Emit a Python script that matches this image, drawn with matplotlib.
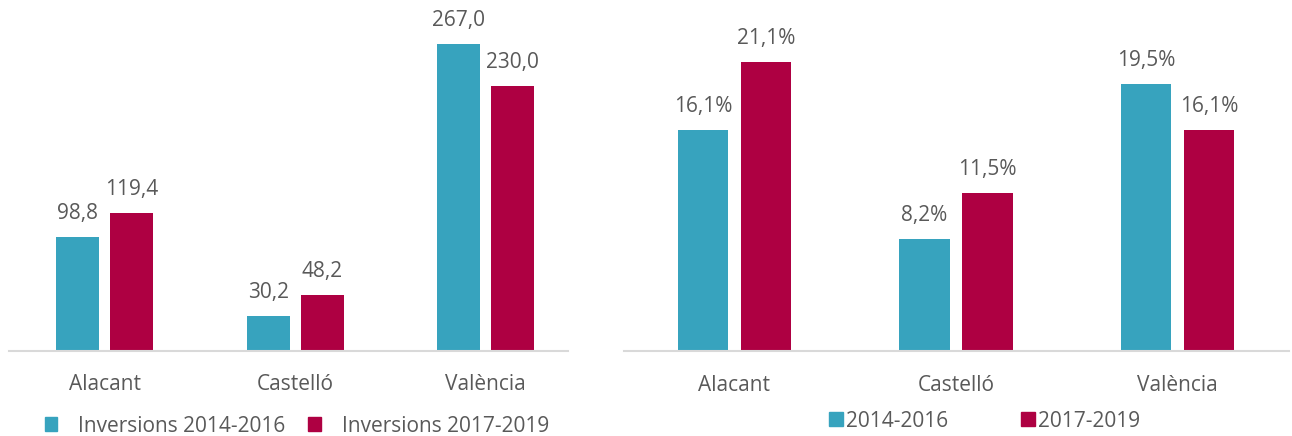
import matplotlib
matplotlib.use("Agg")
import matplotlib.pyplot as plt
import numpy as np
from matplotlib.patches import Patch

categories = ["Alacant", "Castelló", "València"]
inv_2014_2016 = [98.8, 30.2, 267.0]
inv_2017_2019 = [119.4, 48.2, 230.0]
pct_2014_2016 = [16.1, 8.2, 19.5]
pct_2017_2019 = [21.1, 11.5, 16.1]
left_legend = ["Inversions 2014-2016", "Inversions 2017-2019"]
right_legend = ["2014-2016", "2017-2019"]

TEAL = "#37A3BE"
CRIMSON = "#AE0042"
TXT = "#595959"
FONT = "Open Sans"
FS = 15

plt.rcParams['font.family'] = [FONT, 'DejaVu Sans']

W, H = 1292, 436
fig = plt.figure(figsize=(W / 100, H / 100), dpi=100)

def px_axes(x0, x1, ybase, ytop=0):
    return fig.add_axes([x0 / W, (H - ybase) / H, (x1 - x0) / W, (ybase - ytop) / H])

def draw(ax, a, b, fmt, ymax, bw, off):
    x = np.arange(len(categories))
    b1 = ax.bar(x - off, a, bw, color=TEAL)
    b2 = ax.bar(x + off, b, bw, color=CRIMSON)
    for bars, vals in ((b1, a), (b2, b)):
        for r, v in zip(bars, vals):
            ax.annotate(fmt(v), (r.get_x() + r.get_width() / 2, r.get_height()),
                        xytext=(0, 13), textcoords="offset points",
                        ha="center", va="baseline", fontsize=FS, color=TXT)
    ax.set_xlim(-0.5, len(categories) - 0.5)
    ax.set_ylim(0, ymax)
    ax.set_xticks(x)
    ax.set_xticklabels(categories, fontsize=FS, color=TXT)
    ax.tick_params(axis="x", length=0, pad=17)
    ax.set_yticks([])
    for s in ("top", "right", "left"):
        ax.spines[s].set_visible(False)
    ax.spines["bottom"].set_color("#D9D9D9")
    ax.spines["bottom"].set_linewidth(1.5)
    ax.patch.set_alpha(0)
    return b1, b2

ax1 = px_axes(9.4, 581, 350.5)
draw(ax1, inv_2014_2016, inv_2017_2019, lambda v: f"{v:.1f}".replace(".", ","), 305, 0.225, 0.141)
ax1.spines["bottom"].set_bounds(-0.5, 2.43)

ax2 = px_axes(623.5, 1288.5, 351)
draw(ax2, pct_2014_2016, pct_2017_2019, lambda v: f"{v:.1f}".replace(".", ",") + "%", 25.6, 0.226, 0.142)

h1 = [Patch(color=TEAL), Patch(color=CRIMSON)]
fig.legend(h1, left_legend, loc="center", bbox_to_anchor=(297 / W, 1 - 426 / H), ncol=2,
           frameon=False, fontsize=FS, labelcolor=TXT, handlelength=0.62, handleheight=0.62,
           columnspacing=1.1, handletextpad=1.0, borderpad=0)
fig.legend(h1, right_legend, loc="center", bbox_to_anchor=(984.5 / W, 1 - 421 / H), ncol=2,
           frameon=False, fontsize=FS, labelcolor=TXT, handlelength=0.67, handleheight=0.67,
           columnspacing=3.5, handletextpad=0.15, borderpad=0)

fig.savefig("out.png", dpi=100)
